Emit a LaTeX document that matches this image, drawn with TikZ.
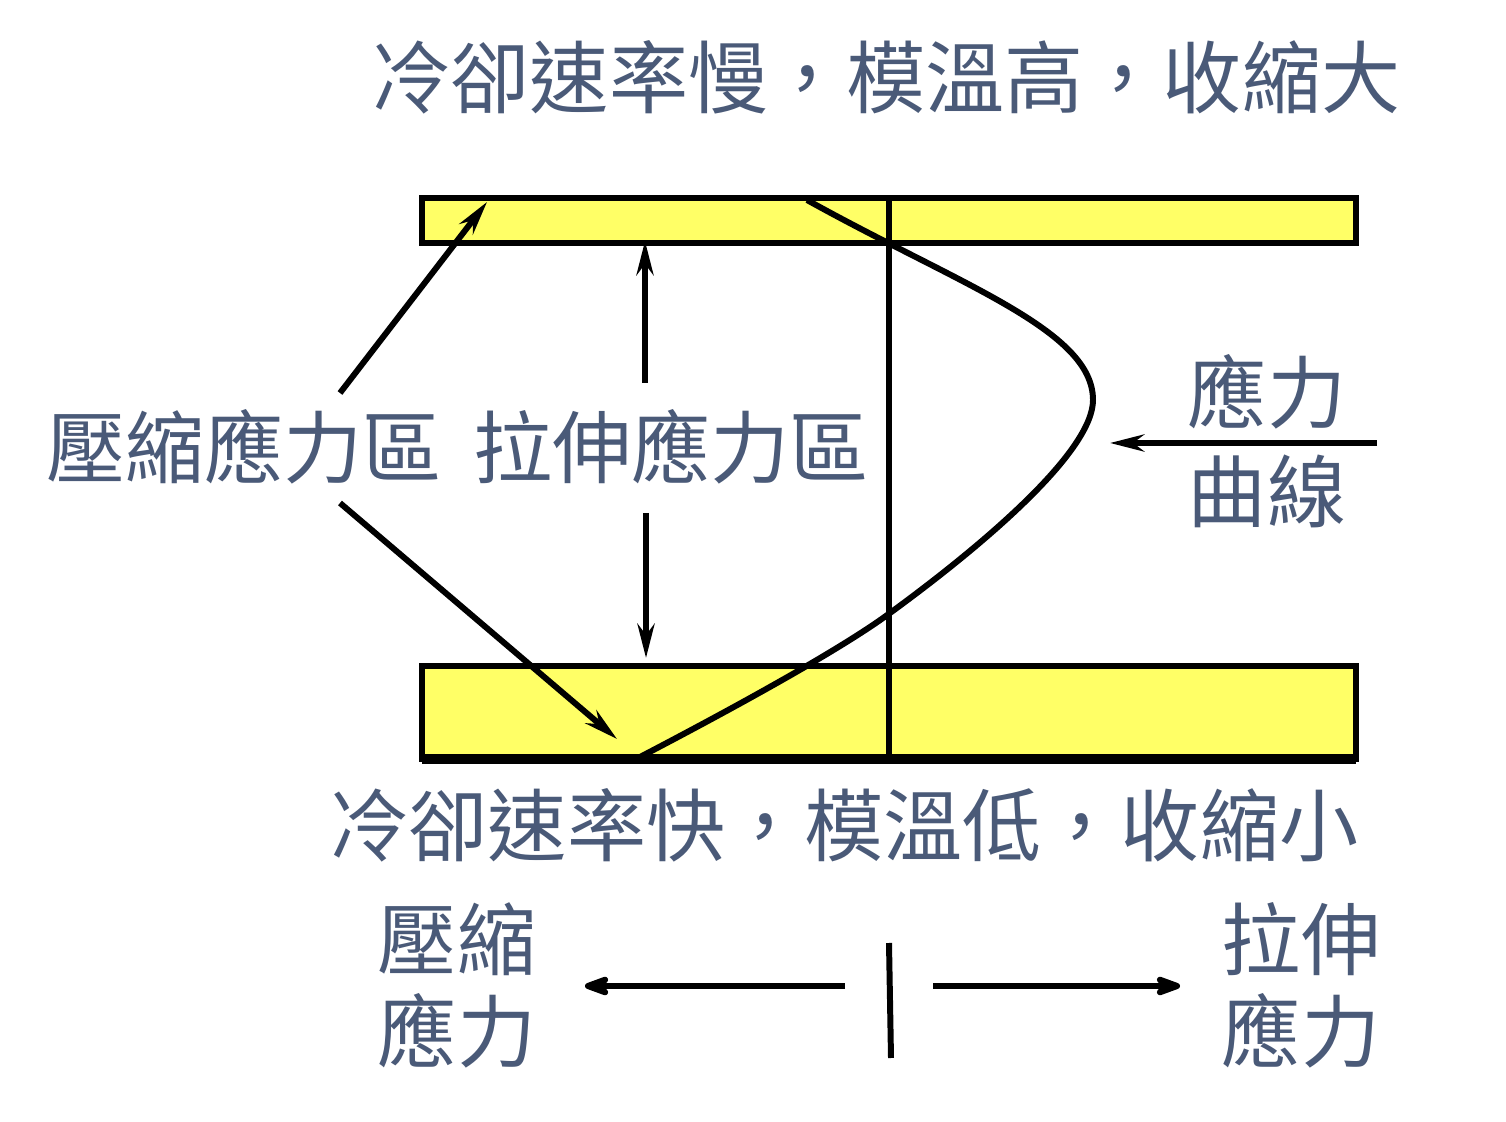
\documentclass[tikz,border=0pt]{standalone}
\usepackage{fontspec}
\setmainfont{Noto Sans CJK TC}
\usetikzlibrary{arrows.meta}
\definecolor{barfill}{HTML}{FFFF66}
\definecolor{labelgray}{HTML}{4A5A78}

\begin{document}
\begin{tikzpicture}[x=0.01cm, y=-0.01cm,
        lbl/.style={text=labelgray, font=\fontsize{22.5}{28}\selectfont, inner sep=0pt, align=center},
        lbltight/.style={lbl, font=\fontsize{22.5}{26.2}\selectfont},
        bar/.style={draw, fill=barfill, line width=1.7pt},
        thick line/.style={line width=1.7pt},
        arr/.style={line width=1.7pt, -{Stealth[length=0.34cm, width=0.17cm]}},
        bigarr/.style={line width=1.9pt, -{Stealth[length=0.36cm, width=0.26cm, round]}}]
    \useasboundingbox (0,0) rectangle (1506,1122);

    % mould walls
    \draw[bar] (422,198) rectangle (1356,243);
    \draw[bar] (422,666) rectangle (1356,759);
    \draw[line width=2.6pt] (422,759) -- (1356,759);
    \draw[thick line] (889,198) -- (889,759);

    % stress curve
    \draw[thick line] (807,200) .. controls (960,285) and (1093,330) .. (1093,400)
        .. controls (1093,450) and (990,540) .. (890,613)
        .. controls (840,650) and (730,710) .. (640,757);

    % labels
    \node[lbl] (slow) at (886,77) {冷卻速率慢，模溫高，收縮大};
    \node[lbl] (fast) at (844,825) {冷卻速率快，模溫低，收縮小};
    \node[lbl] (compzone) at (244,447) {壓縮應力區};
    \node[lbl] (tenzone) at (671,447) {拉伸應力區};
    \node[lbl] (curvelbl) at (1267,441) {應力\\曲線};
    \node[lbltight] (compstress) at (457,985) {壓縮\\應力};
    \node[lbltight] (tenstress) at (1301,985) {拉伸\\應力};

    \coordinate (compup) at (340,393);
    \coordinate (compdown) at (340,503);
    \coordinate (topin) at (487,202);
    \coordinate (botin) at (617,739);
    \coordinate (tenup) at (645,383);
    \coordinate (tendown) at (646,513);
    \coordinate (topedge) at (645,241);
    \coordinate (botedge) at (646,658);
    \coordinate (curvetail) at (1377,443);
    \coordinate (curvept) at (1110,443);
    \coordinate (zerotop) at (889,943);
    \coordinate (zerobot) at (891,1058);
    \coordinate (lefttail) at (845,986);
    \coordinate (lefthead) at (585,986);
    \coordinate (righttail) at (933,986);
    \coordinate (righthead) at (1180,986);

    \draw[arr] (compup) -- (topin);
    \draw[arr] (compdown) -- (botin);
    \draw[arr] (tenup) -- (topedge);
    \draw[arr] (tendown) -- (botedge);
    \draw[arr] (curvetail) -- (curvept);

    \draw[thick line] (zerotop) -- (zerobot);
    \draw[bigarr] (lefttail) -- (lefthead);
    \draw[bigarr] (righttail) -- (righthead);
\end{tikzpicture}
\end{document}
